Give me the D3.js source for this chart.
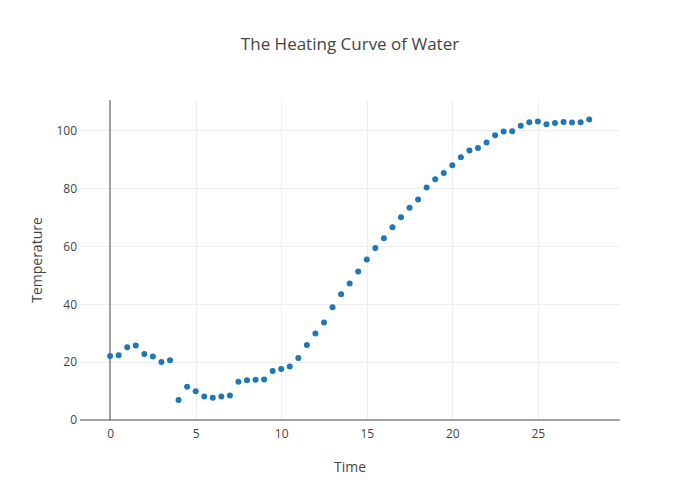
<!DOCTYPE html>
<html>
<head>
<meta charset="utf-8">
<script src="https://cdn.jsdelivr.net/npm/d3@7"></script>
<style>
  html, body { margin: 0; padding: 0; background: #fff; }
  svg { display: block; font-family: "Open Sans", sans-serif; }
</style>
</head>
<body>
<svg id="chart" width="700" height="500"></svg>
<script>
const timeValues = [
  0, 0.5, 1, 1.5, 2, 2.5, 3, 3.5, 4, 4.5,
  5, 5.5, 6, 6.5, 7, 7.5, 8, 8.5, 9, 9.5,
  10, 10.5, 11, 11.5, 12, 12.5, 13, 13.5, 14, 14.5,
  15, 15.5, 16, 16.5, 17, 17.5, 18, 18.5, 19, 19.5,
  20, 20.5, 21, 21.5, 22, 22.5, 23, 23.5, 24, 24.5,
  25, 25.5, 26, 26.5, 27, 27.5, 28
];
const temperatureValues = [
  22.1, 22.4, 25.1, 25.7, 22.8, 21.9, 20.0, 20.6, 6.9, 11.5,
  9.9, 8.1, 7.7, 8.1, 8.5, 13.2, 13.7, 13.9, 14.0, 16.9,
  17.6, 18.5, 21.4, 25.9, 29.9, 33.7, 38.9, 43.4, 47.1, 51.3,
  55.4, 59.4, 62.8, 66.6, 70.0, 73.3, 76.1, 80.3, 83.1, 85.3,
  88.0, 90.7, 93.1, 93.9, 95.8, 98.3, 99.6, 99.7, 101.6, 102.8,
  103.1, 102.1, 102.6, 102.9, 102.7, 102.8, 103.8
];
const xTicks = [0, 5, 10, 15, 20, 25];
const yTicks = [0, 20, 40, 60, 80, 100];
const titleText = "The Heating Curve of Water";
const xLabel = "Time";
const yLabel = "Temperature";

const W = 700, H = 500;
const m = { l: 80, r: 80, t: 100, b: 80 };
const pw = W - m.l - m.r, ph = H - m.t - m.b;

const svg = d3.select("#chart");
const x = d3.scaleLinear().domain([-1.76, 29.8]).range([0, pw]);
const y = d3.scaleLinear().domain([0, 110.5]).range([ph, 0]);

const g = svg.append("g").attr("transform", `translate(${m.l},${m.t})`);

// gridlines
g.append("g").selectAll("line").data(xTicks.filter(d => d !== 0)).join("line")
  .attr("x1", d => Math.round(x(d)) + 0.5).attr("x2", d => Math.round(x(d)) + 0.5)
  .attr("y1", 0).attr("y2", ph)
  .attr("stroke", "#eee").attr("stroke-width", 1);
g.append("g").selectAll("line").data(yTicks.filter(d => d !== 0)).join("line")
  .attr("y1", d => Math.round(y(d)) + 0.5).attr("y2", d => Math.round(y(d)) + 0.5)
  .attr("x1", 0).attr("x2", pw)
  .attr("stroke", "#eee").attr("stroke-width", 1);

// zero line (x = 0)
g.append("line")
  .attr("x1", Math.round(x(0))).attr("x2", Math.round(x(0)))
  .attr("y1", 0).attr("y2", ph)
  .attr("stroke", "#444").attr("stroke-width", 1);

// bottom axis line (y = 0)
g.append("line")
  .attr("x1", 0).attr("x2", pw)
  .attr("y1", y(0)).attr("y2", y(0))
  .attr("stroke", "#444").attr("stroke-width", 1);

// axes via d3
const xAxis = d3.axisBottom(x).tickValues(xTicks).tickSize(0).tickPadding(9);
const gx = g.append("g").attr("transform", `translate(0,${ph})`).call(xAxis);
gx.select(".domain").remove();
gx.selectAll("text").attr("fill", "#444").style("font-size", "12px").style("font-family", "'Open Sans', sans-serif");

const yAxis = d3.axisLeft(y).tickValues(yTicks).tickSize(0).tickPadding(3);
const gy = g.append("g").call(yAxis);
gy.select(".domain").remove();
gy.selectAll("text").attr("fill", "#444").style("font-size", "12px").style("font-family", "'Open Sans', sans-serif");

// points
const pts = timeValues.map((t, i) => [t, temperatureValues[i]]);
g.append("g").selectAll("circle").data(pts).join("circle")
  .attr("cx", d => x(d[0])).attr("cy", d => y(d[1]))
  .attr("r", 3).attr("fill", "#1f77b4");

// titles
svg.append("text").attr("x", W / 2).attr("y", 50)
  .attr("text-anchor", "middle").attr("fill", "#444")
  .style("font-size", "17px").text(titleText);
svg.append("text").attr("x", m.l + pw / 2).attr("y", 472)
  .attr("text-anchor", "middle").attr("fill", "#444")
  .style("font-size", "14px").text(xLabel);
svg.append("text")
  .attr("transform", `translate(42,${m.t + ph / 2}) rotate(-90)`)
  .attr("text-anchor", "middle").attr("fill", "#444")
  .style("font-size", "14px").text(yLabel);
</script>
</body>
</html>
